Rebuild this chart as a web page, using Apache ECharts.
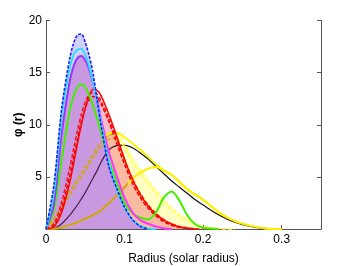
<!DOCTYPE html>
<html><head><meta charset="utf-8">
<script src="https://cdn.jsdelivr.net/npm/echarts@6/dist/echarts.min.js"></script>
<style>html,body{margin:0;padding:0;background:#fff}#c{width:354px;height:266px}</style>
</head><body><div id="c"></div>
<script>
// Shared radius grid (solar radius)
const radius = [0,0.01,0.02,0.03,0.035,0.04,0.045,0.05,0.055,0.06,0.065,0.07,0.08,0.09,0.10,0.11,0.12,0.13,0.14,0.15,0.16,0.17,0.18,0.19,0.20,0.22,0.24,0.26,0.28,0.30];
// Curves (null = curve not drawn there)
const blueDashed = [0,4.2,11.6,16.3,17.8,18.6,18.7,17.9,16.6,14.9,12.4,10.0,6.0,3.9,2.1,0.9,0.25,0,null,null,null,null,null,null,null,null,null,null,null,null];
const cyanLine   = [0,3.5,10.8,15.4,16.7,17.2,17.3,16.7,15.6,14.1,12.2,10.2,6.4,3.8,2.0,0.9,0.3,0.05,0,null,null,null,null,null,null,null,null,null,null,null];
const purpleLine = [0,2.4,9.2,14.1,15.6,16.4,16.6,16.2,15.3,14.0,12.4,10.6,7.4,5.1,3.0,1.6,0.85,0.5,0.24,0.08,0,null,null,null,null,null,null,null,null,null];
const purpleArea = [0,2.4,9.2,14.1,15.6,16.4,16.6,16.2,15.3,13.9,12.2,10.0,6.0,3.9,2.1,0.9,0.25,0,null,null,null,null,null,null,null,null,null,null,null,null];
const greenLine  = [0,1.8,6.7,11.3,12.7,13.6,13.9,13.6,12.8,11.8,10.6,9.3,6.6,4.5,2.5,1.5,1.1,0.9,1.6,3.0,3.6,2.7,1.3,0.45,0.12,0,null,null,null,null];
const redLine    = [0,0.2,1.6,4.4,6.2,8.2,10.0,11.6,12.8,13.4,13.3,12.8,11.0,8.9,6.7,4.8,3.3,2.2,1.4,0.85,0.45,0.2,0.08,0,null,null,null,null,null,null];
const redDash1   = [0,0.5,2.6,5.8,7.6,9.4,11.0,12.2,12.9,13.1,12.9,12.3,10.6,8.6,6.6,4.8,3.4,2.3,1.5,0.9,0.5,0.25,0.1,0.03,0,null,null,null,null,null];
const redDash2   = [0,0.3,2.0,5.0,6.8,8.6,10.3,11.6,12.4,12.7,12.6,12.0,10.3,8.2,6.2,4.4,3.0,2.0,1.25,0.7,0.35,0.15,0.05,0,null,null,null,null,null,null];
const yellowDash1= [0,1.0,2.3,3.6,4.2,4.8,5.4,6.0,6.6,7.2,7.8,8.3,9.0,9.1,8.2,6.8,5.7,4.7,3.7,2.8,2.0,1.4,0.9,0.5,0.25,0.05,0,null,null,null];
const yellowDash2= [0,0.7,1.9,3.2,3.8,4.4,5.0,5.6,6.2,6.8,7.4,7.9,8.6,8.7,7.8,6.4,5.3,4.3,3.4,2.6,1.8,1.2,0.75,0.4,0.2,0.03,0,null,null,null];
const yellowLine = [0,0.2,1.0,2.3,3.0,3.8,4.6,5.4,6.2,6.9,7.6,8.2,9.2,9.25,8.8,8.2,7.6,6.9,6.2,5.6,5.2,4.5,3.8,3.3,2.8,1.6,0.75,0.3,0.05,0];
const goldLine   = [0,0.03,0.15,0.4,0.5,0.65,0.8,1.0,1.15,1.35,1.55,1.8,2.5,3.2,4.0,4.8,5.4,5.8,5.95,5.6,5.2,4.5,3.8,3.3,2.8,1.6,0.75,0.3,0.05,0];
const blackLine  = [0,0.05,0.5,1.3,1.8,2.3,2.9,3.5,4.2,4.9,5.6,6.4,7.6,8.0,8.05,7.8,7.3,6.7,6.0,5.3,4.6,4.0,3.4,2.8,2.3,1.35,0.65,0.25,0.05,0];
const xTicks = [0,0.1,0.2,0.3];
const yTicks = [5,10,15,20];

function pts(v){ return radius.map((r,i)=>[r,v[i]]).filter(p=>p[1]!==null); }
const FONT = '"Liberation Sans", Arial, Helvetica, sans-serif';

function fill(data,color,z){
  return {type:'line',data:pts(data),smooth:0.3,showSymbol:false,silent:true,z:z,
    lineStyle:{width:0,opacity:0},areaStyle:{color:color,opacity:1}};
}
function line(data,color,width,type,z){
  const ls={width:width,type:type||'solid'};
  if(color) ls.color=color;   // no colour -> coloured by visualMap
  return {type:'line',data:pts(data),smooth:0.3,showSymbol:false,silent:true,z:z,lineStyle:ls};
}
const series = [
  fill(yellowDash1,'#ffffc2',1),                    //0
  fill(redDash1,'rgba(240,60,100,0.35)',2),         //1
  fill(blueDashed,'rgba(150,150,240,0.45)',3),      //2
  line(yellowLine,'#f5f500',2,'solid',4),           //3
  fill(purpleArea,'#c898e0',5),                     //4
  line(blackLine,null,1.2,'solid',6),               //5
  line(goldLine,null,2,'solid',7),                  //6
  line(yellowDash2,null,1.5,[4,2],8),               //7
  line(yellowDash1,null,1.5,[4,2],9),               //8
  line(redDash2,'#e80000',1.5,[4,2],10),            //9
  line(redDash1,'#ff1010',1.5,[4,2],11),            //10
  line(redLine,'#ff0000',1.5,'solid',12),           //11
  line(greenLine,'#44ee00',2,'solid',13),           //12
  line(purpleLine,null,2,'solid',14),               //13
  line(cyanLine,'#33ddff',2,'solid',15),            //14
  line(blueDashed,'#1a1aff',1.6,[3,1.5],16)         //15
];
function split(idx,at,c1,c2){
  return {type:'piecewise',show:false,seriesIndex:idx,dimension:0,
    pieces:[{gte:-1,lt:at,color:c1},{gte:at,lte:1,color:c2}]};
}
const chart = echarts.init(document.getElementById('c'),null,{renderer:'canvas'});
chart.setOption({
  animation:false,
  backgroundColor:'#fff',
  grid:{left:46,right:33,top:20.5,bottom:37,outerBoundsMode:'none',containLabel:false},
  visualMap:[
    split(5,0.085,'#4a1a4a','#111111'),
    split(6,0.105,'#d2a800','#ffee00'),
    split(7,0.086,'#d2a800','#ffff60'),
    split(8,0.086,'#d2a800','#ffff60'),
    split(13,0.058,'#9933ff','#ff33ff')
  ],
  xAxis:{type:'value',min:0,max:0.35,interval:0.1,
    name:'Radius (solar radius)',nameLocation:'middle',nameGap:24,nameMoveOverlap:false,
    nameTextStyle:{fontFamily:FONT,fontSize:12,color:'#000'},
    axisLine:{show:true,onZero:false,lineStyle:{color:'#555',width:1}},
    axisTick:{inside:true,length:4,lineStyle:{color:'#555'}},
    axisLabel:{margin:5,fontFamily:FONT,fontSize:12,color:'#000',
      formatter:v=>{const t=xTicks.find(k=>Math.abs(k-v)<1e-9);return t===undefined?'':String(t);}},
    splitLine:{show:false}},
  yAxis:[{type:'value',min:0,max:20,interval:5,
    name:'φ (r)',nameLocation:'middle',nameGap:21,nameMoveOverlap:false,
    nameTextStyle:{fontFamily:FONT,fontSize:12,fontWeight:'bold',color:'#000'},
    axisLine:{show:true,lineStyle:{color:'#555',width:1}},
    axisTick:{inside:true,length:4,lineStyle:{color:'#555'}},
    axisLabel:{margin:4,fontFamily:FONT,fontSize:12,color:'#000',
      formatter:v=>yTicks.includes(v)?String(v):''},
    splitLine:{show:false}},
   {type:'value',min:0,max:20,interval:5,position:'right',
    axisLine:{show:true,lineStyle:{color:'#555',width:1}},
    axisTick:{inside:true,length:4,lineStyle:{color:'#555'}},
    axisLabel:{show:false},splitLine:{show:false}}],
  series:series
});
</script></body></html>
